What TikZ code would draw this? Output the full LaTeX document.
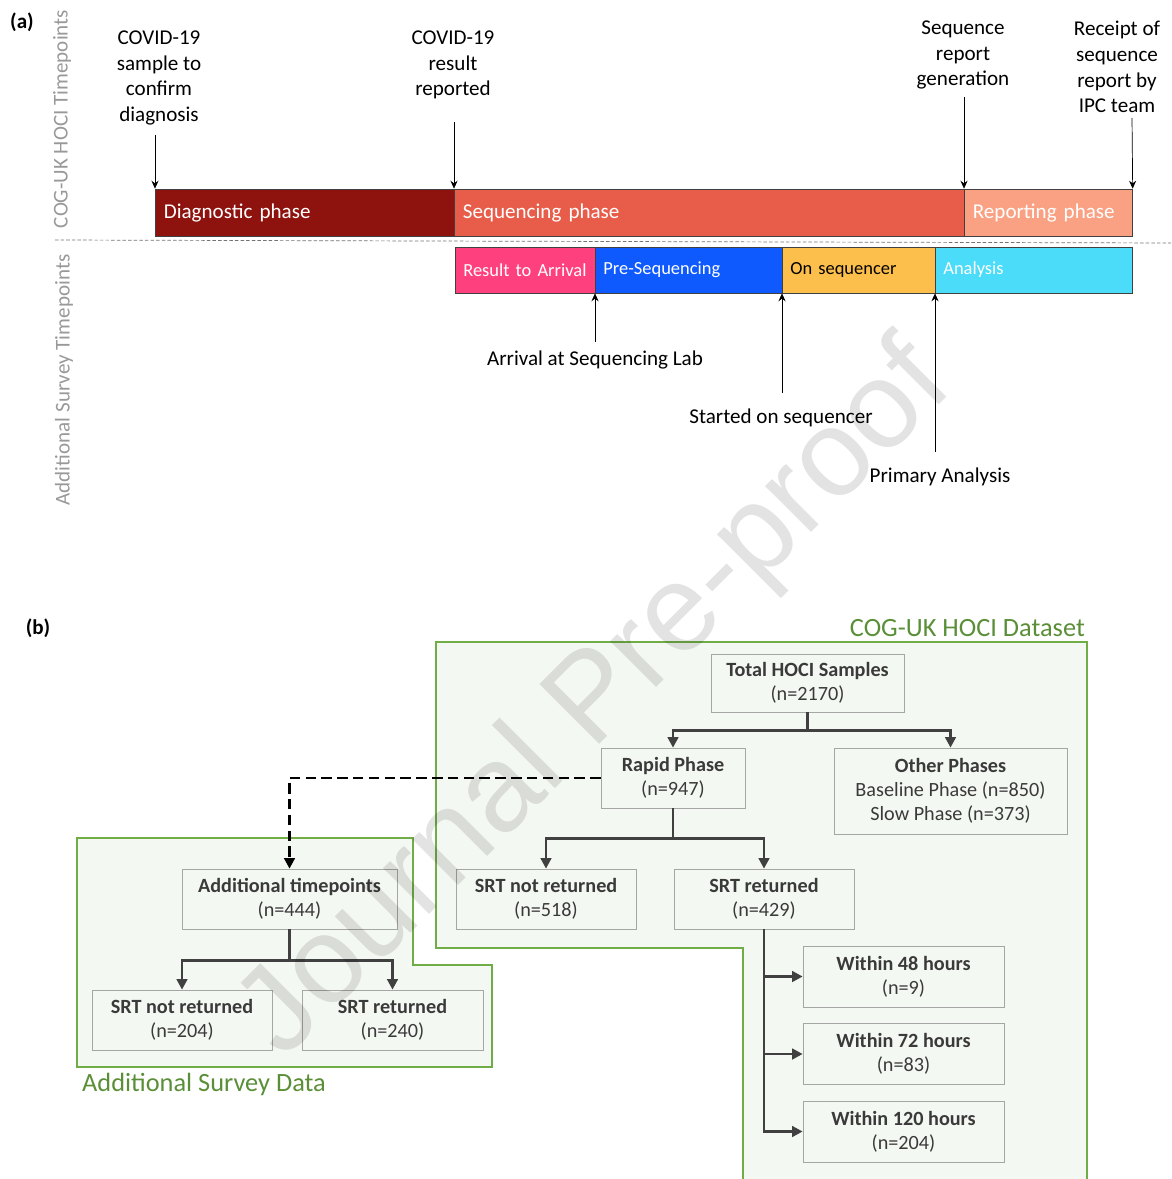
\documentclass[tikz,border=0pt]{standalone}
\usepackage{fontspec}
\setmainfont{Carlito}
\newfontfamily\wmfont{Liberation Sans}
\usetikzlibrary{arrows.meta}
\definecolor{diagred}{HTML}{8E130E}
\definecolor{seqred}{HTML}{E85D4A}
\definecolor{reppeach}{HTML}{F9A182}
\definecolor{respink}{HTML}{FF407F}
\definecolor{preblue}{HTML}{0F5AFF}
\definecolor{onorange}{HTML}{FDBF4C}
\definecolor{anacyan}{HTML}{4ADCF9}
\definecolor{regiongreen}{HTML}{70AD47}
\definecolor{regiontext}{HTML}{5A8F38}
\definecolor{regionfill}{HTML}{F4F8F2}
\definecolor{boxfill}{HTML}{F4F8F2}
\definecolor{boxtext}{HTML}{3A3A3A}
\definecolor{flowgray}{HTML}{404040}
\tikzset{
    >=Stealth,
    phase/.style={draw=black!75,anchor=west,minimum height=0.94cm,inner xsep=0.17cm,align=left,text=white,font=\fontsize{12}{14.6}\selectfont},
    subphase/.style={phase,minimum height=0.92cm,inner xsep=0.16cm,font=\fontsize{10.5}{12.8}\selectfont},
    tlabel/.style={align=center,font=\fontsize{12}{14.6}\selectfont},
    side/.style={rotate=90,text=black!40,font=\fontsize{12}{14.6}\selectfont},
    tick/.style={->,thin,>={Stealth[length=4.5pt,width=4pt]}},
    box/.style={draw=black!35,fill=boxfill,align=center,text=boxtext,minimum height=1.2cm,font=\fontsize{11.5}{13.6}\selectfont},
    flow/.style={->,line width=1.5pt,draw=flowgray,>={Triangle[length=6pt,width=6pt]}},
    region/.style={fill=regionfill,draw=regiongreen,line width=1.1pt},
}
\begin{document}
\begin{tikzpicture}[x=0.02cm,y=-0.02cm]
\useasboundingbox (0,0) rectangle (1171,1179);

% (a) timeline
\node[font=\bfseries\fontsize{12}{14}\selectfont] (pa) at (22,22) {(a)};
\node[side] (s1) at (62,119) {COG-UK HOCI Timepoints};
\node[side] (s2) at (64,380) {Additional Survey Timepoints};
\draw[black!55,dash pattern=on 2pt off 1.2pt] (55,240) -- (1171,243);

\node[phase,fill=diagred,text width=5.64cm] (diag) at (155,212.5) {Diagnostic phase};
\node[phase,fill=seqred,text width=9.86cm] (seqph) at (454,212.5) {Sequencing phase};
\node[phase,fill=reppeach,text width=3.02cm] (repph) at (964,212.5) {Reporting phase};

\node[subphase,fill=respink,text width=2.48cm] (res) at (455,270) {Result to Arrival};
\node[subphase,fill=preblue,text width=3.42cm] (pre) at (595,270) {Pre-Sequencing};
\node[subphase,fill=onorange,text=black,text width=2.74cm] (onseq) at (782,270) {On sequencer};
\node[subphase,fill=anacyan,text width=3.62cm] (ana) at (935,270) {Analysis};

\node[tlabel] (l1) at (159,78) {COVID-19\\sample to\\confirm\\diagnosis};
\node[tlabel] (l2) at (453,65) {COVID-19\\result\\reported};
\node[tlabel] (l3) at (963,55) {Sequence\\report\\generation};
\node[tlabel] (l4) at (1117,67) {Receipt of\\sequence\\report by\\IPC team};
\node[tlabel] (l5) at (595,360) {Arrival at Sequencing Lab};
\node[tlabel] (l6) at (781,418) {Started on sequencer};
\node[tlabel] (l7) at (940,477) {Primary Analysis};

\coordinate (c1) at (155,135);
\coordinate (c2) at (454,122);
\coordinate (c3) at (964,97);
\coordinate (c4) at (1132,118);
\coordinate (c5) at (595,342);
\coordinate (c6) at (782,393);
\coordinate (c7) at (935,452);
\path (c1) edge[tick] (diag.north west)
      (c2) edge[tick] (seqph.north west)
      (c3) edge[tick] (repph.north west)
      (c4) edge[tick] (repph.north east)
      (c5) edge[tick] (pre.south west)
      (c6) edge[tick] (onseq.south west)
      (c7) edge[tick] (ana.south west);

% (b) flow chart
\node[font=\bfseries\fontsize{12}{14}\selectfont] (pb) at (38,628) {(b)};
\fill[regionfill] (743,1180) -- (743,948) -- (436,948) -- (436,642) -- (1087,642) -- (1087,1180) -- cycle;
\draw[region,fill=none] (743,1180) -- (743,948) -- (436,948) -- (436,642) -- (1087,642) -- (1087,1180);
\draw[region] (77,838) -- (413,838) -- (413,965) -- (492,965) -- (492,1067) -- (77,1067) -- cycle;
\node[anchor=east,text=regiontext,font=\fontsize{15}{18}\selectfont] (dset) at (1091,628) {COG-UK HOCI Dataset};
\node[anchor=west,text=regiontext,font=\fontsize{15}{18}\selectfont] (sdata) at (76,1084) {Additional Survey Data};

\node[box,minimum width=3.86cm,minimum height=1.16cm] (total) at (807.5,683) {\textbf{Total HOCI Samples}\\(n=2170)};
\node[box,minimum width=2.88cm] (rapid) at (673,778) {\textbf{Rapid Phase}\\(n=947)};
\node[box,minimum width=4.66cm,minimum height=1.72cm] (other) at (950.5,791) {\textbf{Other Phases}\\Baseline Phase (n=850)\\Slow Phase (n=373)};
\node[box,minimum width=3.6cm] (srtno) at (546,899) {\textbf{SRT not returned}\\(n=518)};
\node[box,minimum width=3.6cm] (srtyes) at (764,899) {\textbf{SRT returned}\\(n=429)};
\node[box,minimum width=4.02cm,minimum height=1.22cm] (w48) at (903.5,976.5) {\textbf{Within 48 hours}\\(n=9)};
\node[box,minimum width=4.02cm,minimum height=1.22cm] (w72) at (903.5,1054) {\textbf{Within 72 hours}\\(n=83)};
\node[box,minimum width=4.02cm,minimum height=1.22cm] (w120) at (903.5,1131.5) {\textbf{Within 120 hours}\\(n=204)};
\node[box,minimum width=4.3cm] (addtp) at (289.5,899) {\textbf{Additional timepoints}\\(n=444)};
\node[box,minimum width=3.6cm] (asno) at (182,1020) {\textbf{SRT not returned}\\(n=204)};
\node[box,minimum width=3.62cm] (asyes) at (392.5,1020) {\textbf{SRT returned}\\(n=240)};

\draw[flow] (total.south) -- ++(0,18) coordinate (j1) -| (rapid.north);
\draw[flow] (j1) -| (other.north);
\draw[flow] (rapid.south) -- ++(0,30) coordinate (j2) -| (srtno.north);
\draw[flow] (j2) -| (srtyes.north);
\draw[flow] (srtyes.south) |- (w48.west);
\draw[flow] (srtyes.south) |- (w72.west);
\draw[flow] (srtyes.south) |- (w120.west);
\draw[flow] (addtp.south) -- ++(0,31) coordinate (j3) -| (asno.north);
\draw[flow] (j3) -| (asyes.north);
\draw[flow,draw=black,dash pattern=on 6pt off 3pt] (rapid.west) -| (addtp.north);

\node[rotate=45,text=black,text opacity=0.11,font=\wmfont\fontsize{70}{74}\selectfont] (wm) at (597,702) {Journal Pre-proof};
\end{tikzpicture}
\end{document}
